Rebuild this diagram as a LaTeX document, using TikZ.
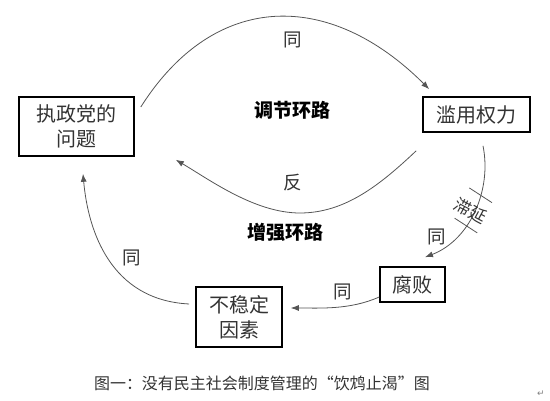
\documentclass[tikz,border=0pt]{standalone}
\usepackage{fontspec}
\setmainfont{Noto Sans CJK SC}
\newfontfamily\symfont{DejaVu Sans}
\usetikzlibrary{arrows.meta, calc}
\definecolor{linkgray}{HTML}{555555}
\definecolor{textgray}{HTML}{333333}

\begin{document}
\begin{tikzpicture}[
  x=1pt, y=-1pt,
  factor/.style={draw, line width=1.6pt, align=center, inner sep=0pt, text=textgray, font=\fontsize{20}{25}\selectfont},
  link/.style={-{Latex[length=8pt, width=6pt]}, line width=0.8pt, linkgray},
  polarity/.style={font=\fontsize{18.5}{18.5}\selectfont, text=textgray},
  loopname/.style={font=\fontsize{19}{19}\selectfont\bfseries},
  delaybar/.style={draw=linkgray, line width=0.8pt, minimum width=27pt, minimum height=0pt, inner sep=0pt, rotate=-33}
]
  \useasboundingbox (0,0) rectangle (550,401);

  % the four factors
  \node[factor, minimum width=115pt, minimum height=59pt] (prob) at (76.5,126.5) {执政党的\\问题};
  \node[factor, minimum width=107pt, minimum height=35pt] (abuse) at (476.5,114.5) {滥用权力};
  \node[factor, minimum width=65pt, minimum height=35pt] (corrupt) at (412.5,284.5) {腐败};
  \node[factor, minimum width=86pt, minimum height=60pt] (unstable) at (239,317) {不稳定\\因素};

  % balancing loop
  \draw[link] ($(prob.east)+(6,-19.5)$) .. controls (215,-10) and (330,-10) .. ($(abuse.north west)+(7,-7)$);
  \draw[link] ($(abuse.south west)+(-6,18)$) .. controls (380,185) and (345,213) .. (300,213)
    .. controls (255,213) and (210,180) .. ($(prob.south east)+(41,3)$);

  % reinforcing loop
  \draw[link] ($(abuse.south)+(6.5,13)$) .. controls (492,190) and (470,240) .. ($(corrupt.north)+(12.5,-9)$)
    node[pos=0.37, delaybar] {} node[pos=0.62, delaybar] {}
    node[pos=0.5, xshift=-4pt, yshift=1pt, rotate=-28, polarity, font=\fontsize{17}{17}\selectfont] {滞延};
  \draw[link] ($(corrupt.west)+(0,12.5)$) .. controls (350,310) and (320,308) .. ($(unstable.east)+(8,-9)$);
  \draw[link] ($(unstable.west)+(-6,-13)$) .. controls (110,300) and (88,230) .. ($(prob.south)+(6.5,17)$);

  % polarities
  \node[polarity] (p1) at (293,40) {同};
  \node[polarity] (p2) at (293,183) {反};
  \node[polarity] (p3) at (437,237) {同};
  \node[polarity] (p4) at (343,292) {同};
  \node[polarity] (p5) at (132,258) {同};

  % loop names
  \node[loopname] (bal) at (292,110) {调节环路};
  \node[loopname] (rein) at (285,232) {增强环路};

  \node[font=\fontsize{16}{16}\selectfont, text=textgray] (cap) at (262,383) {图一：没有民主社会制度管理的“饮鸩止渴”图};
  \node[font=\symfont\fontsize{9}{9}\selectfont, text=gray] (ret) at (541,394) {↵};
\end{tikzpicture}
\end{document}
